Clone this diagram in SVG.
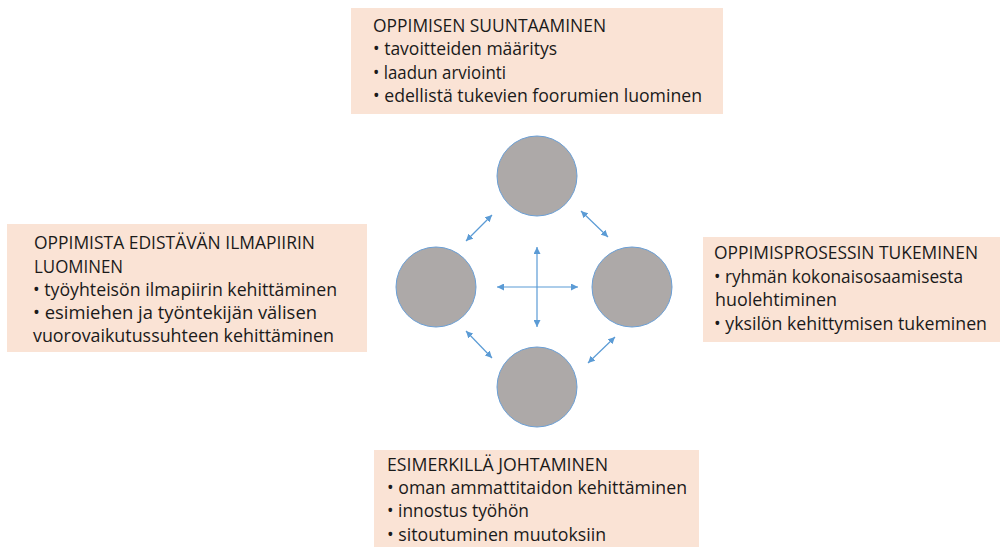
<svg xmlns="http://www.w3.org/2000/svg" width="1003" height="547" viewBox="0 0 1003 547">
  <style>
    .box { fill: #FAE3D5; }
    .lbl { font-family: "Open Sans", "Noto Sans", "Liberation Sans", sans-serif; font-size: 18px; fill: #1a1a1a; }
    .hub { fill: #ADA9A8; stroke: #6A9FD6; stroke-width: 1; }
    .link { stroke: #5B9BD5; stroke-width: 1.2; fill: none; marker-start: url(#tip); marker-end: url(#tip); }
  </style>
  <defs>
    <marker id="tip" viewBox="0 0 10 10" refX="10" refY="5" markerWidth="7" markerHeight="7" markerUnits="userSpaceOnUse" orient="auto-start-reverse">
      <path d="M0,0 L10,5 L0,10 z" fill="#5B9BD5"/>
    </marker>
  </defs>
  <rect width="1003" height="547" fill="#ffffff"/>

  <!-- top: steering learning -->
  <g id="suuntaaminen">
    <rect class="box" x="351" y="8" width="372" height="106"/>
    <text class="lbl" x="373" y="32" textLength="233" lengthAdjust="spacingAndGlyphs">OPPIMISEN SUUNTAAMINEN</text>
    <text class="lbl" x="373" y="55" textLength="184" lengthAdjust="spacingAndGlyphs">• tavoitteiden määritys</text>
    <text class="lbl" x="373" y="79" textLength="133" lengthAdjust="spacingAndGlyphs">• laadun arviointi</text>
    <text class="lbl" x="373" y="102" textLength="329" lengthAdjust="spacingAndGlyphs">• edellistä tukevien foorumien luominen</text>
  </g>

  <!-- left: learning climate -->
  <g id="ilmapiiri">
    <rect class="box" x="7" y="224" width="360" height="128"/>
    <text class="lbl" x="34" y="249" textLength="281" lengthAdjust="spacingAndGlyphs">OPPIMISTA EDISTÄVÄN ILMAPIIRIN</text>
    <text class="lbl" x="34" y="273" textLength="89" lengthAdjust="spacingAndGlyphs">LUOMINEN</text>
    <text class="lbl" x="33" y="296" textLength="304" lengthAdjust="spacingAndGlyphs">• työyhteisön ilmapiirin kehittäminen</text>
    <text class="lbl" x="33" y="319" textLength="284" lengthAdjust="spacingAndGlyphs">• esimiehen ja työntekijän välisen</text>
    <text class="lbl" x="33" y="342" textLength="301" lengthAdjust="spacingAndGlyphs">vuorovaikutussuhteen kehittäminen</text>
  </g>

  <!-- right: supporting the learning process -->
  <g id="tukeminen">
    <rect class="box" x="703" y="237" width="297" height="105"/>
    <text class="lbl" x="714" y="259" textLength="264" lengthAdjust="spacingAndGlyphs">OPPIMISPROSESSIN TUKEMINEN</text>
    <text class="lbl" x="714" y="283" textLength="249" lengthAdjust="spacingAndGlyphs">• ryhmän kokonaisosaamisesta</text>
    <text class="lbl" x="715" y="306" textLength="122" lengthAdjust="spacingAndGlyphs">huolehtiminen</text>
    <text class="lbl" x="714" y="330" textLength="273" lengthAdjust="spacingAndGlyphs">• yksilön kehittymisen tukeminen</text>
  </g>

  <!-- bottom: leading by example -->
  <g id="esimerkki">
    <rect class="box" x="374" y="450" width="325" height="97"/>
    <text class="lbl" x="387" y="471" textLength="221" lengthAdjust="spacingAndGlyphs">ESIMERKILLÄ JOHTAMINEN</text>
    <text class="lbl" x="387" y="494" textLength="300" lengthAdjust="spacingAndGlyphs">• oman ammattitaidon kehittäminen</text>
    <text class="lbl" x="387" y="517" textLength="142" lengthAdjust="spacingAndGlyphs">• innostus työhön</text>
    <text class="lbl" x="387" y="541" textLength="219" lengthAdjust="spacingAndGlyphs">• sitoutuminen muutoksiin</text>
  </g>

  <!-- the four hubs -->
  <g id="hub-top"><circle class="hub" cx="537" cy="176" r="40"/></g>
  <g id="hub-left"><circle class="hub" cx="436" cy="287" r="40"/></g>
  <g id="hub-right"><circle class="hub" cx="632" cy="287" r="40"/></g>
  <g id="hub-bottom"><circle class="hub" cx="537" cy="387" r="40"/></g>

  <!-- two-way links -->
  <g id="connectors">
    <line class="link" x1="537" y1="247" x2="537" y2="327"/>
    <line class="link" x1="497" y1="287" x2="578" y2="287"/>
    <line class="link" x1="466" y1="241" x2="492" y2="215"/>
    <line class="link" x1="581" y1="211" x2="608" y2="237"/>
    <line class="link" x1="466" y1="331" x2="492" y2="358"/>
    <line class="link" x1="588" y1="363" x2="615" y2="337"/>
  </g>
</svg>
